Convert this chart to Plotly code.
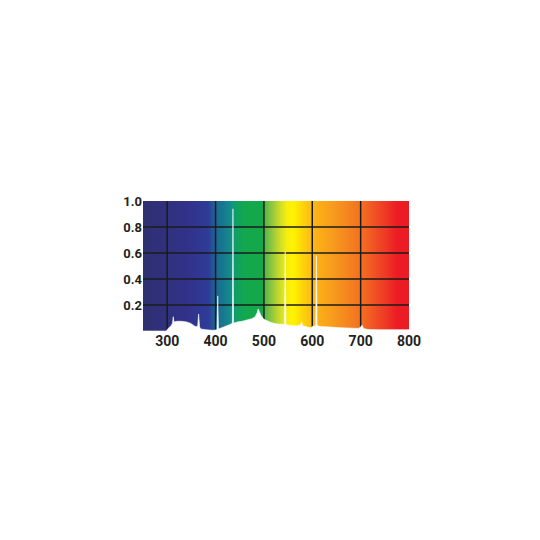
import numpy as np
import plotly.graph_objects as go

# Background spectrum colour stops (wavelength nm -> colour)
band_nm = [250, 340, 385, 398, 415, 432, 442, 460, 497, 503, 515, 530, 547, 562, 576, 605, 650, 700,
           745, 775, 800]
band_colors = ['#2e3070', '#32318a', '#2d3c98', '#1f6497', '#17788f', '#11908a', '#0fa064', '#12a84c',
               '#14a84a', '#5cb947', '#8dc63f', '#c3d92e', '#f8ee0e', '#fff200', '#fed80a', '#fbb415',
               '#f7961d', '#f37021', '#ee4025', '#ec1c24', '#ec1c24']

# Lamp emission spectrum (relative intensity)
spec_nm = [250, 298, 302, 308, 311, 312.5, 314, 320, 330, 340, 348, 353, 358, 363, 365, 367, 370, 380,
           395, 403, 404.5, 406, 410, 420, 430, 434.8, 436, 437.2, 445, 455, 465, 475, 482, 486, 488,
           490, 494, 500, 508, 515, 525, 535, 542.5, 544, 545.5, 552, 560, 570, 576, 578, 580, 590,
           597, 600, 605, 607, 608.5, 610, 618, 630, 645, 660, 680, 695, 700, 703, 706, 715, 740,
           760, 780, 800]
spec_val = [0, 0, 0.02, 0.04, 0.06, 0.11, 0.07, 0.075, 0.075, 0.07, 0.06, 0.045, 0.035, 0.035, 0.13,
            0.03, 0.015, 0.01, 0.005, 0.01, 0.27, 0.015, 0.02, 0.035, 0.05, 0.06, 0.94, 0.06, 0.07,
            0.075, 0.085, 0.095, 0.11, 0.14, 0.17, 0.15, 0.12, 0.09, 0.075, 0.065, 0.055, 0.05, 0.05,
            0.61, 0.05, 0.045, 0.04, 0.04, 0.05, 0.07, 0.04, 0.03, 0.025, 0.035, 0.04, 0.04, 0.58,
            0.04, 0.035, 0.03, 0.028, 0.025, 0.022, 0.02, 0.03, 0.045, 0.02, 0.012, 0.01, 0.012,
            0.01, 0.01]

x_ticks = [300, 400, 500, 600, 700, 800]
y_ticks = [0.2, 0.4, 0.6, 0.8, 1.0]
x_grid = [300, 400, 500, 600, 700]
y_grid = [0.2, 0.4, 0.6, 0.8]

lo, hi = band_nm[0], band_nm[-1]
colorscale = [[(w - lo) / (hi - lo), c] for w, c in zip(band_nm, band_colors)]

xs = np.arange(lo, hi + 1, 1.0)
fig = go.Figure()

# rainbow background
fig.add_trace(go.Heatmap(x=xs, y=[0, 1], z=[xs, xs], colorscale=colorscale, zmin=lo, zmax=hi,
                         showscale=False, hoverinfo='skip', zsmooth='best'))

# grid lines drawn over the background, under the spectrum
gx, gy = [], []
for v in x_grid:
    gx += [v, v, None]
    gy += [0, 1, None]
for v in y_grid:
    gx += [lo, hi, None]
    gy += [v, v, None]
fig.add_trace(go.Scatter(x=gx, y=gy, mode='lines', line=dict(color='#1b1b1b', width=1.5),
                         hoverinfo='skip', showlegend=False))

# white emission curve
fig.add_trace(go.Scatter(x=spec_nm, y=spec_val, mode='lines', fill='tozeroy', fillcolor='white',
                         line=dict(color='white', width=0.6), showlegend=False))

font = dict(family='Roboto, Liberation Sans Narrow, sans-serif', color='#231f20', weight='bold')

fig.update_xaxes(range=[lo, hi], tickvals=x_ticks, showgrid=False, zeroline=False, showline=False,
                 ticks='', tickfont=dict(size=14, **font))
fig.update_yaxes(range=[0, 1], tickvals=y_ticks, tickformat='.1f', showgrid=False, zeroline=False,
                 showline=False, ticks='', tickfont=dict(size=13, **font))

# the page body adds 8px, so margins are shifted to land the plot at the same spot
fig.update_layout(width=540, height=540, margin=dict(l=135, r=139, t=193, b=217),
                  paper_bgcolor='white', plot_bgcolor='white', showlegend=False)

fig.write_html("out.html")
